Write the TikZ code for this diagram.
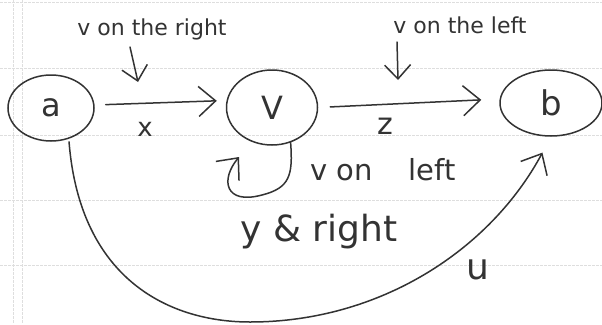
\documentclass[tikz,border=0pt]{standalone}
\usepackage{fontspec}
\setmainfont{DejaVu Sans}
\usetikzlibrary{shapes.geometric,arrows.meta}
\definecolor{ink}{HTML}{333333}
\definecolor{paperrule}{HTML}{DEDEDE}
\newcommand{\fsz}[1]{\fontsize{#1}{#1}\selectfont}
\begin{document}
\begin{tikzpicture}[x=1pt,y=-1pt,
  inkline/.style={draw=ink, line width=1.5pt, line cap=round, line join=round},
  arr/.style={inkline, -{Straight Barb[length=17pt,width=30pt,line width=1.5pt]}},
  arrsmall/.style={inkline, -{Straight Barb[length=14pt,width=26pt,line width=1.5pt]}},
  state/.style={ellipse, draw=ink, line width=1.5pt, inner sep=0pt, text=ink},
  lbl/.style={text=ink, inner sep=0pt},
  paper/.style={draw=paperrule, line width=0.8pt, dash pattern=on 3pt off 1pt}]
\useasboundingbox (0,0) rectangle (602,324);
\fill[white] (0,0) rectangle (602,324);
% lined paper
\foreach \yy in {2,68,135,200,265} {\draw[paper] (0,\yy) -- (602,\yy);}
\draw[paper] (13,0) -- (13,324);
\draw[paper] (22,0) -- (22,324);
% states
\node[state, minimum width=86pt, minimum height=66pt, font=\fsz{32}] (a) at (51,108) {a};
\node[state, minimum width=91pt, minimum height=75pt, font=\fsz{32}] (v) at (272,107.5) {V};
\node[state, minimum width=102pt, minimum height=66pt, font=\fsz{34}] (b) at (551,103) {b};
% main arrows
\draw[arr, shorten <=11pt, shorten >=9pt] ([yshift=3pt]a.east) -- ([yshift=7pt]v.west);
\draw[arr, shorten <=12pt, shorten >=18pt] (v.east) -- ([yshift=4pt]b.west);
\node[lbl, font=\fsz{26}] (lx) at (145,129) {x};
\node[lbl, font=\fsz{30}] (lz) at (385,126) {z};
% top labels with pointer arrows
\node[lbl, font=\fsz{22}] (tR) at (152,29) {v on the right};
\node[lbl, font=\fsz{22}] (tL) at (460,25) {v on the left};
\coordinate (rs) at (130,47);
\coordinate (re) at (138,82);
\coordinate (ls) at (397,42);
\coordinate (le) at (398,80);
\draw[arrsmall] (rs) -- (re);
\draw[arrsmall] (ls) -- (le);
% self loop on v
\coordinate (loopend) at (239,157);
\draw[arr] (v.-62) .. controls (293,175) and (290,188) .. (262,195)
  .. controls (225,205) and (220,180) .. (loopend);
\node[lbl, font=\fsz{29}] (vl) at (383,170) {v on\hspace{36pt}left};
\node[lbl, font=\fsz{36}] (yr) at (319,232) {y \& right};
% arc u
\draw[arr, shorten <=3pt, shorten >=18pt] (a.-60) .. controls (80,280) and (170,322) .. (250,322)
  .. controls (380,322) and (490,250) .. (b.south);
\node[lbl, font=\fsz{36}] (lu) at (478,270) {u};
\end{tikzpicture}
\end{document}
